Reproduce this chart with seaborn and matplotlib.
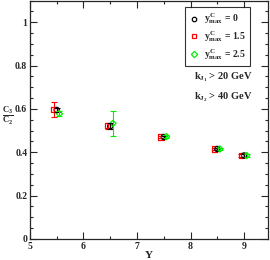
import matplotlib
matplotlib.use("Agg")
import matplotlib.pyplot as plt
import numpy as np
import pandas as pd
import seaborn as sns
from matplotlib.lines import Line2D
from matplotlib.ticker import MultipleLocator

rapidity = [5.5, 6.5, 7.5, 8.5, 9.0]
series_names = ["0", "1.5", "2.5"]
ratio_ymax0 = [0.595, 0.520, 0.470, 0.415, 0.385]
err_ymax0 = [0.010, 0.015, 0.006, 0.006, 0.005]
ratio_ymax15 = [0.597, 0.522, 0.470, 0.415, 0.385]
err_ymax15 = [0.035, 0.015, 0.006, 0.006, 0.005]
ratio_ymax25 = [0.578, 0.533, 0.472, 0.415, 0.385]
err_ymax25 = [0.010, 0.057, 0.006, 0.006, 0.005]
shifts = [0.0, -0.05, 0.05]

sns.set_theme(style="ticks")
plt.rcParams["font.family"] = ["Liberation Serif", "DejaVu Serif"]
plt.rcParams["font.weight"] = "bold"
plt.rcParams["mathtext.fontset"] = "custom"
plt.rcParams["mathtext.rm"] = "Liberation Serif:bold"
plt.rcParams["mathtext.it"] = "Liberation Serif:bold"
plt.rcParams["mathtext.bf"] = "Liberation Serif:bold"

rows = []
for name, vals, errs, dx in zip(series_names,
                                [ratio_ymax0, ratio_ymax15, ratio_ymax25],
                                [err_ymax0, err_ymax15, err_ymax25], shifts):
    for y, v, e in zip(rapidity, vals, errs):
        rows.append({"Y": y + dx, "ratio": v, "err": e, "ymax": name})
df = pd.DataFrame(rows)

colors = {"0": "black", "1.5": "red", "2.5": "#00ee00"}
markers = {"0": "o", "1.5": "s", "2.5": "D"}

fig = plt.figure(figsize=(2.7, 2.6), dpi=100)
ax = fig.add_axes([0.111, 0.081, 0.882, 0.917])

for name in ["1.5", "0", "2.5"]:
    sub = df[df["ymax"] == name]
    ax.errorbar(sub["Y"], sub["ratio"], yerr=sub["err"], fmt="none",
                ecolor=colors[name], elinewidth=0.8, capsize=2, capthick=0.8)
    sns.scatterplot(data=sub, x="Y", y="ratio", ax=ax, marker=markers[name],
                    s=14 if name != "2.5" else 10, facecolors="none",
                    edgecolor=colors[name], linewidth=0.9, legend=False)

ax.set_xlim(5, 9.45)
ax.set_ylim(0, 1.1)
ax.xaxis.set_major_locator(MultipleLocator(1))
ax.xaxis.set_minor_locator(MultipleLocator(0.5))
ax.yaxis.set_major_locator(MultipleLocator(0.2))
ax.yaxis.set_minor_locator(MultipleLocator(0.05))
ax.tick_params(which="both", direction="in", top=True, right=True,
               labelsize=7, pad=2)
ax.tick_params(which="major", length=5, width=0.8)
ax.tick_params(which="minor", length=2.5, width=0.8)
ax.set_xticklabels([f"{t:g}" for t in ax.get_xticks()])
ax.set_yticklabels([f"{t:g}" for t in ax.get_yticks()])
for lab in ax.get_xticklabels() + ax.get_yticklabels():
    lab.set_fontweight("bold")
ax.set_xlabel("Y", fontsize=8, fontweight="bold", labelpad=0)
ax.set_ylabel("")
fig.text(0.028, 0.555, r"$\frac{C_3}{C_2}$", fontsize=9, ha="center", va="center")

handles = [Line2D([], [], linestyle="none", marker=markers[n], markersize=3.2,
                  markerfacecolor="none", markeredgecolor=colors[n], markeredgewidth=0.9)
           for n in series_names]
labels = [rf"$y^{{C}}_{{max}}$ = {n}" for n in series_names]
leg = ax.legend(handles, labels, loc="upper right", fontsize=7, frameon=True,
                fancybox=False, edgecolor="black", borderpad=0.45,
                handlelength=1.0, handletextpad=0.5, labelspacing=0.3,
                borderaxespad=0, bbox_to_anchor=(0.925, 0.972))
leg.get_frame().set_linewidth(0.8)

ax.text(0.69, 0.68, r"$k_{J_1}$ > 20 GeV", transform=ax.transAxes, fontsize=7.5,
        ha="left", va="center")
ax.text(0.69, 0.594, r"$k_{J_2}$ > 40 GeV", transform=ax.transAxes, fontsize=7.5,
        ha="left", va="center")

for s in ax.spines.values():
    s.set_linewidth(0.9)

fig.savefig("out.png", dpi=100)
